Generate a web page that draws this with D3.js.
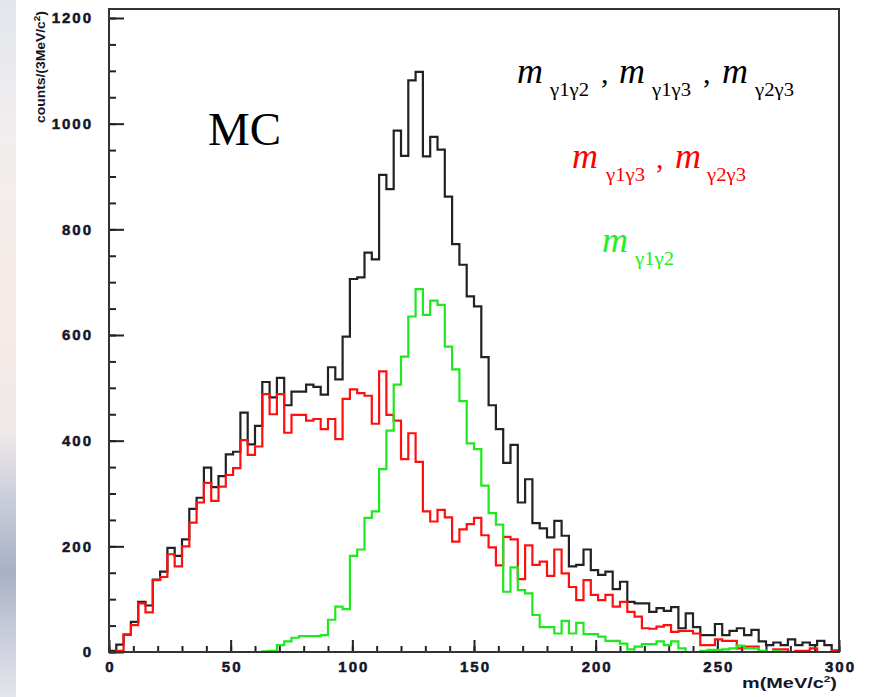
<!DOCTYPE html>
<html>
<head>
<meta charset="utf-8">
<script src="https://cdn.jsdelivr.net/npm/d3@7"></script>
<style>
  body { margin: 0; background: #fff; }
  svg { display: block; }
  .tick text { font-family: "Liberation Sans", Arial, sans-serif; font-weight: bold; font-size: 15px; fill: #15152a; stroke: #15152a; stroke-width: 0.5px; letter-spacing: 2px; }
</style>
</head>
<body>
<div id="chart"></div>
<script>
// counts per 3 MeV bin, 0..300 MeV (100 bins)
var blackCounts = [2, 14, 33, 57, 95, 88, 137, 152, 197, 182,
                   213, 271, 292, 349, 312, 333, 374, 379, 453, 393,
                   428, 511, 482, 519, 467, 493, 493, 506, 502, 487,
                   539, 516, 597, 706, 709, 756, 743, 903, 876, 987,
                   939, 1082, 1098, 938, 975, 951, 862, 772, 733, 673,
                   654, 558, 467, 422, 358, 392, 283, 327, 244, 234,
                   217, 248, 220, 162, 165, 194, 155, 146, 152, 119,
                   133, 95, 92, 92, 76, 83, 78, 85, 45, 73,
                   47, 32, 32, 53, 32, 40, 45, 32, 42, 20,
                   13, 18, 13, 24, 13, 18, 13, 21, 13, 2]
var redCounts = [0, 2, 33, 51, 92, 75, 136, 142, 185, 162,
                 200, 245, 283, 320, 286, 313, 335, 348, 401, 373,
                 389, 488, 450, 488, 415, 449, 449, 438, 441, 422,
                 441, 403, 479, 497, 490, 485, 432, 531, 449, 438,
                 365, 414, 360, 266, 247, 269, 255, 209, 232, 242,
                 254, 221, 198, 164, 218, 213, 138, 202, 165, 171,
                 144, 194, 149, 123, 98, 136, 108, 98, 108, 86,
                 95, 76, 67, 45, 44, 48, 51, 38, 40, 40,
                 35, 13, 13, 24, 21, 21, 7, 10, 10, 0,
                 0, 5, 5, 0, 2, 2, 7, 0, 0, 3]
var greenCounts = [0, 0, 0, 0, 0, 0, 0, 0, 0, 0,
                   0, 0, 0, 0, 0, 0, 0, 0, 0, 0,
                   0, 1, 2, 13, 20, 27, 30, 30, 30, 32,
                   61, 86, 81, 182, 194, 254, 266, 346, 419, 506,
                   559, 635, 687, 638, 665, 657, 578, 535, 475, 395,
                   384, 315, 263, 241, 114, 160, 117, 111, 70, 47,
                   47, 35, 59, 35, 55, 34, 34, 29, 21, 21,
                   16, 5, 10, 15, 15, 20, 13, 20, 7, 0,
                   0, 2, 4, 4, 5, 7, 12, 7, 7, 2,
                   0, 2, 0, 0, 0, 0, 0, 0, 0, 0]
var binWidth = 3
var xTicks = [0, 50, 100, 150, 200, 250, 300]
var yTicks = [0, 200, 400, 600, 800, 1000, 1200]

var W = 870, H = 697
var plotL = 109, plotR = 839, plotT = 9, plotB = 652

var svg = d3.select('#chart').append('svg')
    .attr('width', W)
    .attr('height', H)

// slide background peeking in at the left edge
var grad = svg.append('defs').append('linearGradient')
    .attr('id', 'bg').attr('x1', 0).attr('y1', 0).attr('x2', 0).attr('y2', 1)
var stops = [[0, '#e2e6ec'], [0.2, '#f2eeee'], [0.45, '#f6ebe7'], [0.62, '#eee8e8'],
             [0.72, '#c9cdd9'], [0.82, '#a9b0c6'], [0.9, '#c6cad8'], [1, '#e4e6ec']]
grad.selectAll('stop').data(stops).enter().append('stop')
    .attr('offset', function (d) { return d[0] })
    .attr('stop-color', function (d) { return d[1] })
svg.append('rect')
    .attr('x', 0).attr('y', 0).attr('width', 16).attr('height', H)
    .attr('fill', 'url(#bg)')

// Scales
var xScale = d3.scaleLinear().domain([0, 300]).range([plotL, plotR])
var yScale = d3.scaleLinear().domain([0, 1200]).range([plotB, 18])

// Y-axis (ticks inside)
svg.append('g')
    .attr('transform', 'translate(' + plotL + ',0)')
    .call(d3.axisLeft(yScale).tickValues(d3.range(0, 1201, 50)).tickSize(-7).tickFormat(''))
    .call(function (g) { g.select('.domain').remove() })
    .selectAll('line').attr('stroke', '#222').attr('stroke-width', 2)
svg.append('g')
    .attr('transform', 'translate(' + plotL + ',0)')
    .call(d3.axisLeft(yScale).tickValues(yTicks).tickSize(-15).tickPadding(16).tickFormat(d3.format('d')))
    .call(function (g) { g.select('.domain').remove() })
    .call(function (g) { g.selectAll('line').attr('stroke', '#222').attr('stroke-width', 2) })

// X-axis (ticks inside)
svg.append('g')
    .attr('transform', 'translate(0,' + plotB + ')')
    .call(d3.axisBottom(xScale).tickValues(d3.range(0, 301, 10)).tickSize(-6).tickFormat(''))
    .call(function (g) { g.select('.domain').remove() })
    .selectAll('line').attr('stroke', '#222').attr('stroke-width', 2)
svg.append('g')
    .attr('transform', 'translate(0,' + plotB + ')')
    .call(d3.axisBottom(xScale).tickValues(xTicks).tickSize(-12).tickPadding(9).tickFormat(d3.format('d')))
    .call(function (g) { g.select('.domain').remove() })
    .call(function (g) { g.selectAll('line').attr('stroke', '#222').attr('stroke-width', 2) })
    .call(function (g) { g.selectAll('text').attr('dx', '1px') })

// histograms
var line = d3.line()
    .x(function (d) { return xScale(d[0]) })
    .y(function (d) { return yScale(d[1]) })
    .curve(d3.curveStepAfter)
function steps(vals) {
  var pts = vals.map(function (v, i) { return [i * binWidth, v] })
  pts.push([vals.length * binWidth, vals[vals.length - 1]])
  return pts
}
var series = [
  { vals: blackCounts, color: '#222' },
  { vals: redCounts, color: '#ff1010' },
  { vals: greenCounts, color: '#1ee81e' }
]
svg.selectAll('.hist')
    .data(series)
    .enter()
  .append('path')
    .attr('class', 'hist')
    .attr('d', function (d) { return line(steps(d.vals)) })
    .attr('fill', 'none')
    .attr('stroke', function (d) { return d.color })
    .attr('stroke-width', 2.2)

// frame
svg.append('rect')
    .attr('x', plotL).attr('y', plotT)
    .attr('width', plotR - plotL).attr('height', plotB - plotT)
    .attr('fill', 'none')
    .attr('stroke', '#333')
    .attr('stroke-width', 2)

// axis titles
var xt = svg.append('text')
    .attr('x', 742).attr('y', 688)
    .attr('textLength', 95).attr('lengthAdjust', 'spacingAndGlyphs')
    .style('font-family', '"Liberation Sans", Arial, sans-serif')
    .style('font-weight', 'bold').style('font-size', '15px').style('fill', '#15152a')
xt.append('tspan').text('m(MeV/c')
xt.append('tspan').attr('dy', -6).style('font-size', '9px').text('2')
xt.append('tspan').attr('dy', 6).text(')')

var yt = svg.append('text')
    .attr('transform', 'translate(45,123) rotate(-90)')
    .attr('textLength', 112).attr('lengthAdjust', 'spacingAndGlyphs')
    .style('font-family', '"Liberation Sans", Arial, sans-serif')
    .style('font-weight', 'bold').style('font-size', '12.5px').style('fill', '#15152a')
yt.append('tspan').text('counts/(3MeV/c')
yt.append('tspan').attr('dy', -5).style('font-size', '9px').text('2')
yt.append('tspan').attr('dy', 5).text(')')

// labels
svg.append('text')
    .attr('x', 208).attr('y', 145)
    .style('font-family', '"Liberation Serif", "Times New Roman", serif')
    .style('font-size', '47px').style('fill', '#000')
    .text('MC')

var legendRows = [
  { color: '#000', base: 83, parts: [['m', 517], ['γ1γ2', 550], [',', 601], ['m', 619], ['γ1γ3', 652], [',', 703], ['m', 722], ['γ2γ3', 755]] },
  { color: '#ff0000', base: 168, parts: [['m', 572], ['γ1γ3', 606], [',', 656], ['m', 675], ['γ2γ3', 707]] },
  { color: '#22ee22', base: 252, parts: [['m', 602], ['γ1γ2', 635]] }
]
legendRows.forEach(function (row) {
  row.parts.forEach(function (p) {
    var t = svg.append('text')
        .attr('x', p[1])
        .style('font-family', '"Liberation Serif", "Times New Roman", serif')
        .style('fill', row.color)
        .text(p[0])
    if (p[0] == 'm') {
      t.attr('y', row.base).style('font-style', 'italic').style('font-size', '36px')
    } else if (p[0] == ',') {
      t.attr('y', row.base).style('font-size', '30px')
    } else {
      t.attr('y', row.base + 13).style('font-size', '19px')
        .attr('textLength', 39).attr('lengthAdjust', 'spacingAndGlyphs')
    }
  })
})
</script>
</body>
</html>
